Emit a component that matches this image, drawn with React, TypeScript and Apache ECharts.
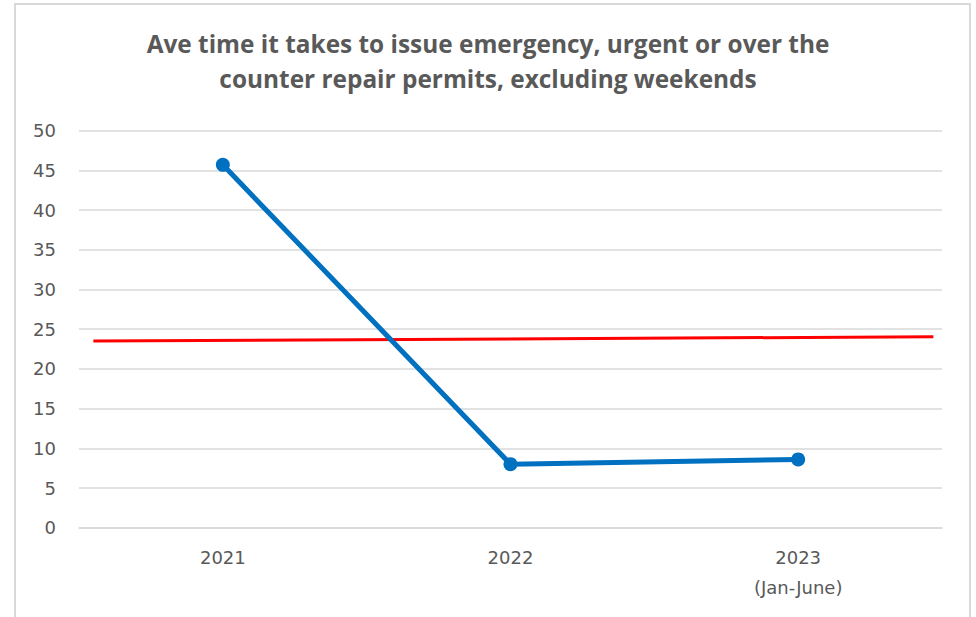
import React, { useEffect, useRef } from "react";
import * as echarts from "echarts";

const categories = ["2021", "2022", "2023\n(Jan-June)"];
const avgDays = [45.7, 8.0, 8.6];
// Red reference line: [x position in category units, value]
const redLine: [number, number][] = [
  [-0.45, 23.5],
  [2.47, 24.05],
];
const yTicks = { min: 0, max: 50, interval: 5 };
const titleText =
  "Ave time it takes to issue emergency, urgent or over the\ncounter repair permits, excluding weekends";

export default function App() {
  const ref = useRef<HTMLDivElement>(null);
  useEffect(() => {
    if (!ref.current) return;
    const chart = echarts.init(ref.current, undefined, { renderer: "svg" });
    const font = "'Open Sans', sans-serif";
    const labelFont = "'DejaVu Sans', sans-serif";
    chart.setOption({
      animation: false,
      backgroundColor: "#ffffff",
      textStyle: { fontFamily: font },
      title: {
        text: titleText,
        left: "center",
        top: 21,
        textStyle: {
          fontFamily: font,
          fontSize: 24.4,
          fontWeight: "bold",
          color: "#595959",
          lineHeight: 35,
        },
      },
      graphic: [
        {
          type: "rect",
          shape: { x: 15, y: 4, width: 955, height: 640 },
          style: { fill: "none", stroke: "#D9D9D9", lineWidth: 2 },
          silent: true,
          z: -1,
        },
      ],
      grid: { left: 79, right: 34, top: 130.7, bottom: 89.3 },
      xAxis: [
        {
          type: "category",
          data: categories,
          boundaryGap: true,
          axisLine: { show: true, lineStyle: { color: "#D9D9D9", width: 1.5 } },
          axisTick: { show: false },
          axisLabel: {
            color: "#595959",
            fontSize: 18,
            fontFamily: labelFont,
            margin: 15,
            lineHeight: 30,
          },
        },
        {
          type: "value",
          min: -0.5,
          max: 2.5,
          show: false,
        },
      ],
      yAxis: {
        type: "value",
        min: yTicks.min,
        max: yTicks.max,
        interval: yTicks.interval,
        axisLine: { show: false },
        axisTick: { show: false },
        splitLine: { lineStyle: { color: "#D9D9D9", width: 1.5 } },
        axisLabel: { color: "#595959", fontSize: 18, fontFamily: labelFont, margin: 23 },
      },
      series: [
        {
          type: "line",
          data: redLine,
          xAxisIndex: 1,
          symbol: "none",
          lineStyle: { color: "#FF0000", width: 3 },
          z: 2,
        },
        {
          type: "line",
          data: avgDays,
          xAxisIndex: 0,
          symbol: "circle",
          symbolSize: 14,
          itemStyle: { color: "#0070C0" },
          lineStyle: { color: "#0070C0", width: 5 },
          z: 3,
        },
      ],
    });
    return () => chart.dispose();
  }, []);
  return (
    <div
      ref={ref}
      style={{ position: "fixed", left: 0, top: 0, width: 976, height: 617 }}
    />
  );
}
